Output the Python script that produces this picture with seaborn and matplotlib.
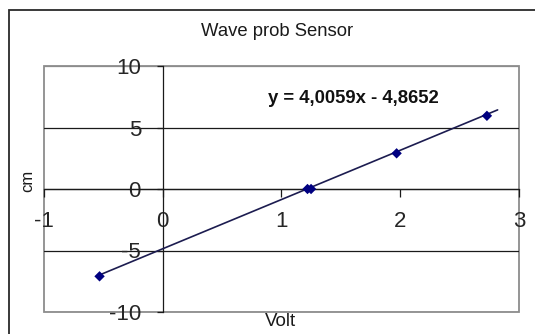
import numpy as np
import pandas as pd
import matplotlib
matplotlib.use("Agg")
import matplotlib.pyplot as plt
import seaborn as sns
from matplotlib.patches import Rectangle

# ---- data ----
volt = [-0.53, 1.22, 1.25, 1.97, 2.73]
cm = [-7.1, 0.0, 0.0, 2.9, 5.95]
slope = 4.0059
intercept = -4.8652
trend_x = [-0.53, 2.82]
x_ticks = [-1, 0, 1, 2, 3]
y_ticks = [-10, -5, 0, 5, 10]
title = "Wave prob Sensor"
equation = "y = 4,0059x - 4,8652"
x_label = "Volt"
y_label = "cm"

sns.set_style("white")
plt.rcParams["font.family"] = ["Liberation Sans", "DejaVu Sans"]
plt.rcParams["axes.unicode_minus"] = False

W, H = 535, 334
fig = plt.figure(figsize=(W / 100, H / 100), dpi=100)
L, R, T, B = 43.7, 519.0, 66.0, 312.0
ax = fig.add_axes([L / W, 1 - B / H, (R - L) / W, (B - T) / H])

df = pd.DataFrame({"volt": volt, "cm": cm})
tx = np.array(trend_x)
trend = pd.DataFrame({"x": tx, "y": slope * tx + intercept})

ax.set_yticks(y_ticks)
ax.set_xticks(x_ticks)
ax.grid(axis="y", color="#1a1a1a", lw=0.9)
ax.grid(axis="x", visible=False)
ax.set_axisbelow(True)

sns.lineplot(data=trend, x="x", y="y", ax=ax, color="#1c1c50", lw=1.2, zorder=3)
sns.scatterplot(data=df, x="volt", y="cm", ax=ax, marker="D", s=28,
                color="#000080", edgecolor="none", zorder=4)

ax.set_xlim(x_ticks[0], x_ticks[-1])
ax.set_ylim(y_ticks[0], y_ticks[-1])
ax.set_xlabel("")
ax.set_ylabel("")

# plot area border (gray) + axes crossing at zero
ax.patch.set_edgecolor("#8c8c8c")
ax.patch.set_linewidth(1.3)
for s in ["top", "right"]:
    ax.spines[s].set_visible(False)
ax.spines["left"].set_position(("data", 0))
ax.spines["bottom"].set_position(("data", 0))
for s in ["left", "bottom"]:
    ax.spines[s].set_color("#1a1a1a")
    ax.spines[s].set_linewidth(0.9)
    ax.spines[s].set_zorder(2)

gl = ax.get_ygridlines()
gl[0].set_color("#8c8c8c")
gl[-1].set_color("#8c8c8c")

ax.tick_params(axis="x", bottom=True, direction="out", length=5.5, width=0.9,
               color="#1a1a1a", pad=10, labelsize=16)
ax.tick_params(axis="y", left=True, direction="out", length=4.5, width=0.9,
               color="#1a1a1a", pad=11, labelsize=16)

# outer chart border
fig.add_artist(Rectangle((8.7 / W, -0.2), 1.2, 1 - 10 / H + 0.2,
                         transform=fig.transFigure, fill=False,
                         ec="#2a2a2a", lw=1.3))

def ftext(px, py, s, **kw):
    fig.text(px / W, 1 - py / H, s, ha="center", va="center", **kw)

ftext(277, 32, title, fontsize=13.3, color="#1a1a1a")
ftext(353.5, 99, equation, fontsize=13.3, fontweight="bold", color="#111111")
ftext(280, 322, x_label, fontsize=13.5, color="#1a1a1a")
ftext(27.5, 181, y_label, fontsize=12, rotation=90, color="#1a1a1a")

fig.savefig("out.png", dpi=100)
